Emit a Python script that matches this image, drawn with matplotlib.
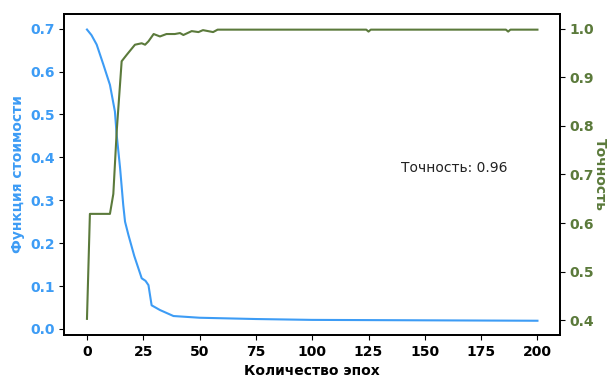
import numpy as np
import matplotlib
matplotlib.use('Agg')
import matplotlib.pyplot as plt

# Функция стоимости по эпохам
loss_epochs = [0, 2, 4.3, 7.3, 10.2, 12.4, 13.2, 14.7, 16.1, 16.9, 18.4, 21, 24.3, 26, 27.3,
               28.7, 32.4, 38.4, 50, 75, 100, 150, 200]
loss_values = [0.698, 0.685, 0.663, 0.616, 0.569, 0.507, 0.452, 0.375, 0.289, 0.25, 0.219,
               0.17, 0.118, 0.112, 0.102, 0.055, 0.044, 0.030, 0.026, 0.023, 0.021, 0.020,
               0.019]

# Точность по эпохам
acc_epochs = [0, 1.3, 10.2, 11.7, 13.2, 15.4, 17.6, 21.3, 24.3, 25.8, 27.3, 29.6, 32.4,
              35.3, 39, 41.3, 42.8, 46.5, 49.5, 51.5, 56, 58, 124, 125, 126, 186, 187,
              188, 200]
acc_values = [0.403, 0.619, 0.619, 0.66, 0.789, 0.933, 0.946, 0.967, 0.970, 0.967, 0.974,
              0.989, 0.984, 0.989, 0.989, 0.991, 0.987, 0.995, 0.993, 0.997, 0.993, 0.998,
              0.998, 0.994, 0.998, 0.998, 0.994, 0.998, 0.998]

x_ticks = [0, 25, 50, 75, 100, 125, 150, 175, 200]
acc_text = 'Точность: 0.96'

blue = '#3d9cf5'
green = '#5b7a3b'

fig = plt.figure(figsize=(6.08, 3.81), dpi=100)
ax1 = fig.add_axes([0.106, 0.121, 0.815, 0.842])
ax2 = ax1.twinx()

ax1.plot(loss_epochs, loss_values, color=blue, lw=1.5)
ax2.plot(acc_epochs, acc_values, color=green, lw=1.5)

ax1.set_xticks(x_ticks)
ax1.set_xlim(-10, 210)
ax1.set_ylim(-0.014, 0.734)
ax1.set_yticks(np.arange(0, 0.75, 0.1))
ax2.set_ylim(0.37, 1.03)
ax2.set_yticks(np.arange(0.4, 1.05, 0.1))

ax1.set_xlabel('Количество эпох', fontsize=10, fontweight='bold')
ax1.set_ylabel('Функция стоимости', fontsize=10, fontweight='bold', color=blue)
ax2.set_ylabel('Точность', fontsize=10, fontweight='bold', color=green,
               rotation=270, labelpad=9)

for lab in ax1.get_xticklabels():
    lab.set_fontweight('bold')
ax1.tick_params(axis='x', labelsize=10)
ax1.tick_params(axis='y', labelsize=10, labelcolor=blue)
ax2.tick_params(axis='y', labelsize=10, labelcolor=green)
for lab in ax1.get_yticklabels() + ax2.get_yticklabels():
    lab.set_fontweight('bold')

for ax in (ax1, ax2):
    for s in ax.spines.values():
        s.set_linewidth(1.3)

ax1.text(0.68, 0.52, acc_text, transform=ax1.transAxes, fontsize=10,
         va='center', ha='left', color='#222222')

fig.savefig('out.png', dpi=100)
